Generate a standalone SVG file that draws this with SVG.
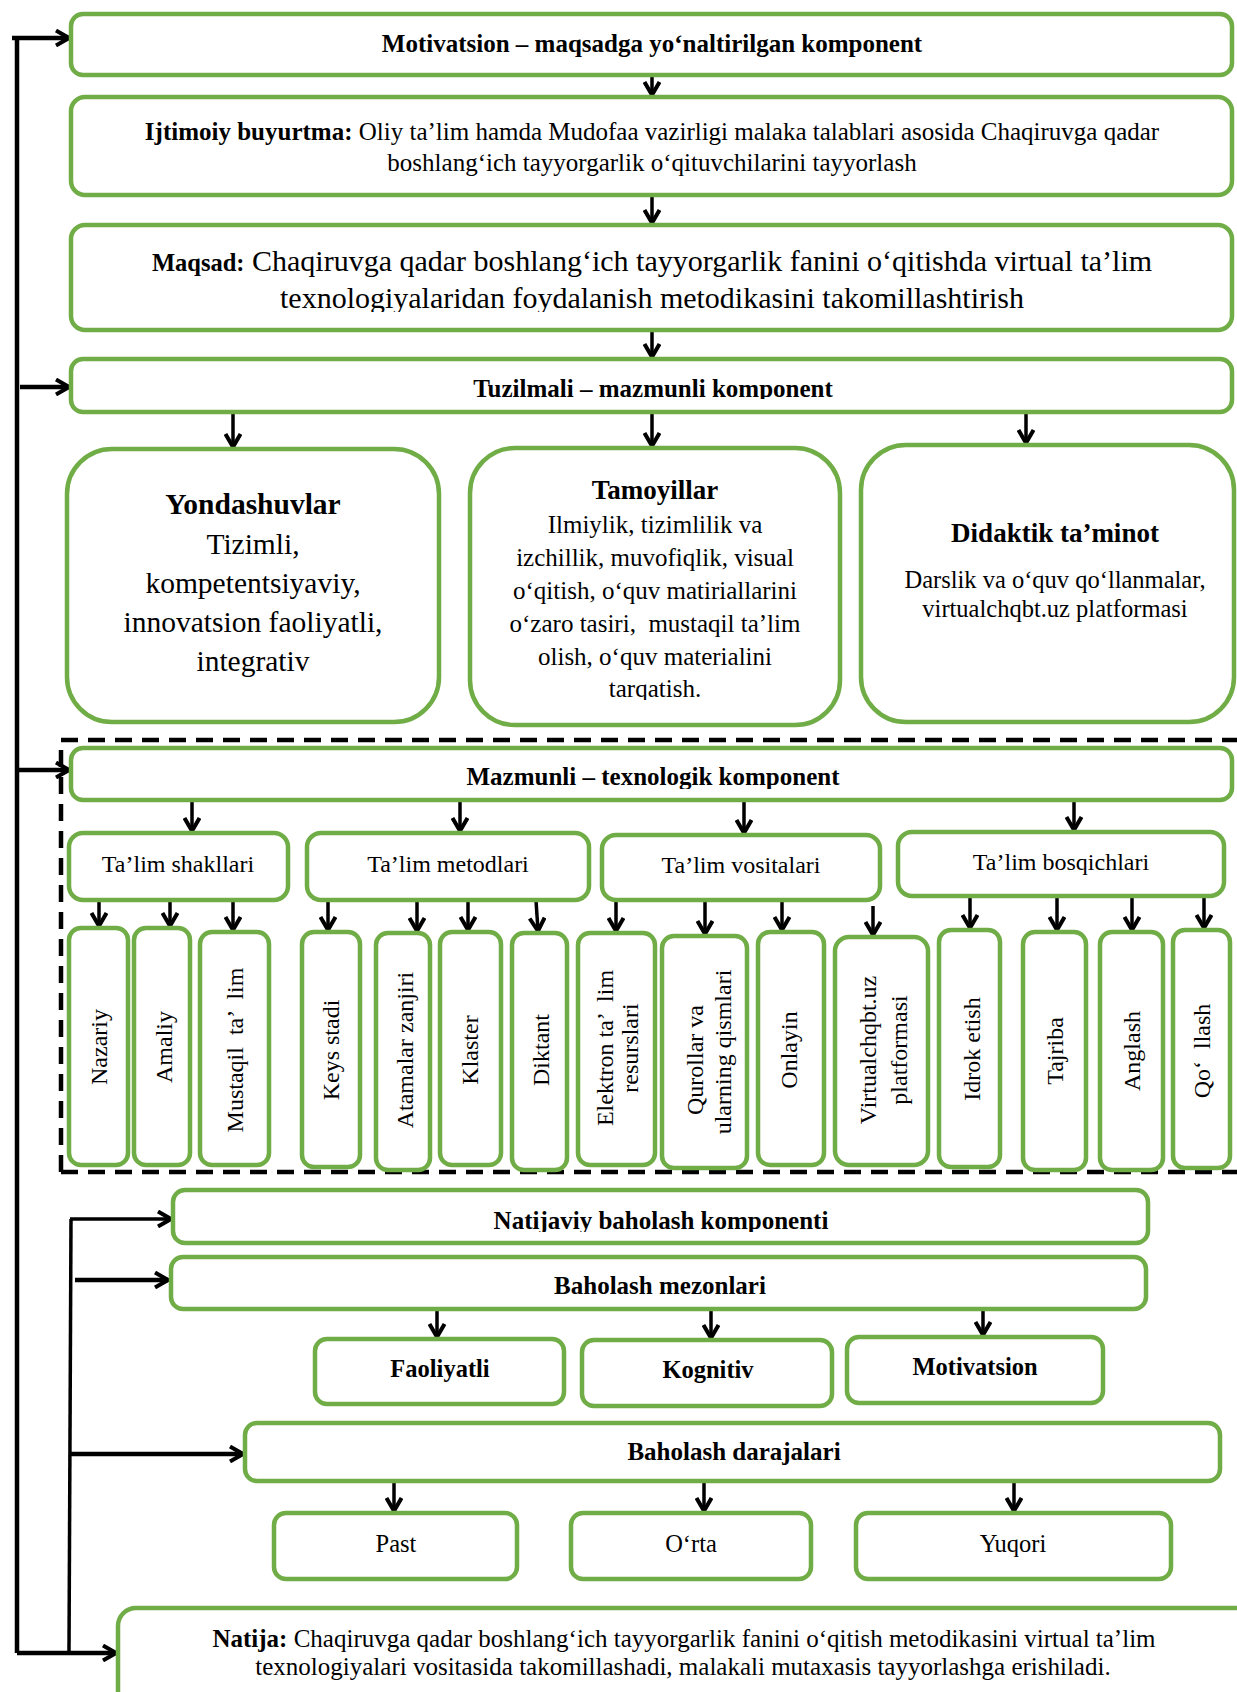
<svg xmlns="http://www.w3.org/2000/svg" width="1237" height="1692" viewBox="0 0 1237 1692">
<defs>
<style>
.box{fill:#fff;stroke:#70AD47;stroke-width:4.5}
.t{font-family:"Liberation Serif","Times New Roman",serif;fill:#000;text-anchor:middle}
.b{font-weight:bold}
.ln{stroke:#000;stroke-width:3.5;fill:none}
.lt{stroke:#000;stroke-width:4.5;fill:none}
.v{font-family:"Liberation Serif","Times New Roman",serif;fill:#000;text-anchor:middle;dominant-baseline:central;font-size:24px}
</style>
<marker id="ah" viewBox="0 0 18 18" refX="16" refY="9" markerWidth="18" markerHeight="18" markerUnits="userSpaceOnUse" orient="auto">
<path d="M3,1.5 L16,9 L3,16.5" fill="none" stroke="#000" stroke-width="4" stroke-linejoin="miter"/>
</marker>
<clipPath id="cTuz"><rect x="0" y="300" width="1237" height="99"/></clipPath>
<clipPath id="cMaz"><rect x="0" y="740" width="1237" height="49"/></clipPath>
<clipPath id="cNat"><rect x="0" y="1180" width="1237" height="52"/></clipPath>
<clipPath id="cMaq"><rect x="0" y="280" width="1237" height="32"/></clipPath>
<clipPath id="cTam"><rect x="0" y="670" width="1237" height="30"/></clipPath>
<clipPath id="cQur"><rect x="600" y="900" width="145" height="300"/></clipPath>
</defs>
<rect x="0" y="0" width="1237" height="1692" fill="#fff"/>

<g id="connectors">
<path class="lt" d="M17,36 V1653"/>
<path class="lt" d="M12,38 H69" marker-end="url(#ah)"/>
<path class="lt" d="M20,387 H69" marker-end="url(#ah)"/>
<path class="lt" d="M17,770 H69" marker-end="url(#ah)"/>
<path class="lt" d="M17,1653 H116" marker-end="url(#ah)"/>
<path class="ln" d="M71,1219 L69,1651"/>
<path class="ln" d="M70,1219 H171" marker-end="url(#ah)"/>
<path class="lt" d="M75,1280 H168" marker-end="url(#ah)"/>
<path class="lt" d="M70,1454 H243" marker-end="url(#ah)"/>

<path class="ln" d="M652,75 V95" marker-end="url(#ah)"/>
<path class="ln" d="M652,195 V223" marker-end="url(#ah)"/>
<path class="ln" d="M652,330 V357" marker-end="url(#ah)"/>
<path class="ln" d="M233,410 V447" marker-end="url(#ah)"/>
<path class="ln" d="M652,410 V446" marker-end="url(#ah)"/>
<path class="ln" d="M1026,410 V443" marker-end="url(#ah)"/>

<path class="ln" d="M192,800 V831" marker-end="url(#ah)"/>
<path class="ln" d="M460,800 V831" marker-end="url(#ah)"/>
<path class="ln" d="M744,800 V833" marker-end="url(#ah)"/>
<path class="ln" d="M1074,800 V830" marker-end="url(#ah)"/>

<path class="ln" d="M99,900 V926" marker-end="url(#ah)"/>
<path class="ln" d="M170,900 V926" marker-end="url(#ah)"/>
<path class="ln" d="M233,900 V930" marker-end="url(#ah)"/>
<path class="ln" d="M328,900 V930" marker-end="url(#ah)"/>
<path class="ln" d="M417,900 V931" marker-end="url(#ah)"/>
<path class="ln" d="M468,900 V930" marker-end="url(#ah)"/>
<path class="ln" d="M536,900 L538,931" marker-end="url(#ah)"/>
<path class="ln" d="M616,900 V931" marker-end="url(#ah)"/>
<path class="ln" d="M705,900 V934" marker-end="url(#ah)"/>
<path class="ln" d="M782,900 V930" marker-end="url(#ah)"/>
<path class="ln" d="M873,906 V935" marker-end="url(#ah)"/>
<path class="ln" d="M970,896 V928" marker-end="url(#ah)"/>
<path class="ln" d="M1057,896 V930" marker-end="url(#ah)"/>
<path class="ln" d="M1132,896 V930" marker-end="url(#ah)"/>
<path class="ln" d="M1204,896 V928" marker-end="url(#ah)"/>

<path class="ln" d="M437,1309 V1337" marker-end="url(#ah)"/>
<path class="ln" d="M711,1309 V1338" marker-end="url(#ah)"/>
<path class="ln" d="M983,1309 V1335" marker-end="url(#ah)"/>
<path class="ln" d="M394,1481 V1511" marker-end="url(#ah)"/>
<path class="ln" d="M704,1481 V1511" marker-end="url(#ah)"/>
<path class="ln" d="M1014,1481 V1511" marker-end="url(#ah)"/>
</g>

<g id="n-motivatsion">
<rect class="box" x="71" y="14" width="1161" height="61" rx="12"/>
<text class="t b" x="652" y="52" font-size="25">Motivatsion – maqsadga yo‘naltirilgan komponent</text>
</g>
<g id="n-ijtimoiy">
<rect class="box" x="71" y="97" width="1161" height="98" rx="14"/>
<text class="t" x="652" y="140" font-size="25"><tspan class="b">Ijtimoiy buyurtma:</tspan> Oliy ta’lim hamda Mudofaa vazirligi malaka talablari asosida Chaqiruvga qadar</text>
<text class="t" x="652" y="171" font-size="25">boshlang‘ich tayyorgarlik o‘qituvchilarini tayyorlash</text>
</g>
<g id="n-maqsad">
<rect class="box" x="71" y="225" width="1161" height="105" rx="14"/>
<text class="t" x="652" y="271" font-size="30"><tspan class="b" font-size="24.5">Maqsad:</tspan> Chaqiruvga qadar boshlang‘ich tayyorgarlik fanini o‘qitishda virtual ta’lim</text>
<text class="t" x="652" y="308" font-size="30" clip-path="url(#cMaq)">texnologiyalaridan foydalanish metodikasini takomillashtirish</text>
</g>
<g id="n-tuzilmali">
<rect class="box" x="71" y="359" width="1161" height="53" rx="12"/>
<text class="t b" x="653" y="397" font-size="25" clip-path="url(#cTuz)">Tuzilmali – mazmunli komponent</text>
</g>
<g id="n-yondashuvlar">
<rect class="box" x="67" y="449" width="372" height="273" rx="45"/>
<text class="t b" x="253" y="514" font-size="29.5">Yondashuvlar</text>
<text class="t" x="253" y="554" font-size="29.5">Tizimli,</text>
<text class="t" x="253" y="593" font-size="29.5">kompetentsiyaviy,</text>
<text class="t" x="253" y="632" font-size="29.5">innovatsion faoliyatli,</text>
<text class="t" x="253" y="671" font-size="29.5">integrativ</text>
</g>
<g id="n-tamoyillar">
<rect class="box" x="470" y="448" width="370" height="277" rx="45"/>
<text class="t b" x="655" y="499" font-size="27">Tamoyillar</text>
<text class="t" x="655" y="533" font-size="25">Ilmiylik, tizimlilik va</text>
<text class="t" x="655" y="566" font-size="25">izchillik, muvofiqlik, visual</text>
<text class="t" x="655" y="599" font-size="25">o‘qitish, o‘quv matiriallarini</text>
<text class="t" x="655" y="632" font-size="25" xml:space="preserve">o‘zaro tasiri,  mustaqil ta’lim</text>
<text class="t" x="655" y="665" font-size="25">olish, o‘quv materialini</text>
<text class="t" x="655" y="697" font-size="25" clip-path="url(#cTam)">tarqatish.</text>
</g>
<g id="n-didaktik">
<rect class="box" x="861" y="445" width="373" height="277" rx="45"/>
<text class="t b" x="1055" y="542" font-size="27">Didaktik ta’minot</text>
<text class="t" x="1055" y="588" font-size="24.5">Darslik va o‘quv qo‘llanmalar,</text>
<text class="t" x="1055" y="617" font-size="24.5">virtualchqbt.uz platformasi</text>
</g>

<g id="g-dashed">
<path d="M61,1172 V740 H1240 M61,1172 H1240" fill="none" stroke="#000" stroke-width="4.5" stroke-dasharray="17 10"/>
</g>

<g id="n-mazmunli">
<rect class="box" x="71" y="748" width="1161" height="52" rx="12"/>
<text class="t b" x="653" y="785" font-size="25" clip-path="url(#cMaz)">Mazmunli – texnologik komponent</text>
</g>
<g id="n-shakllari">
<rect class="box" x="69" y="833" width="219" height="67" rx="14"/>
<text class="t" x="178" y="872" font-size="24">Ta’lim shakllari</text>
</g>
<g id="n-metodlari">
<rect class="box" x="307" y="833" width="282" height="67" rx="14"/>
<text class="t" x="448" y="872" font-size="24">Ta’lim metodlari</text>
</g>
<g id="n-vositalari">
<rect class="box" x="602" y="835" width="278" height="65" rx="14"/>
<text class="t" x="741" y="873" font-size="24">Ta’lim vositalari</text>
</g>
<g id="n-bosqichlari">
<rect class="box" x="898" y="832" width="326" height="64" rx="14"/>
<text class="t" x="1061" y="870" font-size="24">Ta’lim bosqichlari</text>
</g>

<g id="n-nazariy"><rect class="box" x="69" y="928" width="59" height="237" rx="12"/><text class="v" transform="translate(99,1047) rotate(-90)">Nazariy</text></g>
<g id="n-amaliy"><rect class="box" x="134" y="928" width="56" height="237" rx="12"/><text class="v" transform="translate(164,1047) rotate(-90)">Amaliy</text></g>
<g id="n-mustaqil"><rect class="box" x="200" y="932" width="69" height="233" rx="12"/><text class="v" xml:space="preserve" transform="translate(235,1050) rotate(-90)">Mustaqil  ta’  lim</text></g>
<g id="n-keys"><rect class="box" x="302" y="932" width="58" height="235" rx="12"/><text class="v" transform="translate(331,1050) rotate(-90)">Keys stadi</text></g>
<g id="n-atamalar"><rect class="box" x="376" y="933" width="54" height="237" rx="12"/><text class="v" transform="translate(405,1050) rotate(-90)">Atamalar zanjiri</text></g>
<g id="n-klaster"><rect class="box" x="440" y="932" width="61" height="233" rx="12"/><text class="v" transform="translate(470,1050) rotate(-90)">Klaster</text></g>
<g id="n-diktant"><rect class="box" x="512" y="933" width="55" height="237" rx="12"/><text class="v" transform="translate(541,1050) rotate(-90)">Diktant</text></g>
<g id="n-elektron"><rect class="box" x="578" y="933" width="77" height="232" rx="12"/><text class="v" xml:space="preserve" transform="translate(605,1048) rotate(-90)">Elektron ta’  lim</text><text class="v" transform="translate(630,1048) rotate(-90)">resurslari</text></g>
<g id="n-qurollar"><rect class="box" x="662" y="936" width="85" height="232" rx="12"/><text class="v" transform="translate(695,1060) rotate(-90)">Qurollar va</text><g clip-path="url(#cQur)"><text class="v" transform="translate(723,1052) rotate(-90)">ularning qismlari</text></g></g>
<g id="n-onlayin"><rect class="box" x="758" y="932" width="66" height="233" rx="12"/><text class="v" transform="translate(789,1050) rotate(-90)">Onlayin</text></g>
<g id="n-virtual"><rect class="box" x="835" y="937" width="93" height="228" rx="14"/><text class="v" transform="translate(868,1050) rotate(-90)">Virtualchqbt.uz</text><text class="v" transform="translate(899,1050) rotate(-90)">platformasi</text></g>
<g id="n-idrok"><rect class="box" x="939" y="930" width="61" height="237" rx="12"/><text class="v" transform="translate(972,1049) rotate(-90)">Idrok etish</text></g>
<g id="n-tajriba"><rect class="box" x="1023" y="932" width="63" height="238" rx="12"/><text class="v" transform="translate(1055,1051) rotate(-90)">Tajriba</text></g>
<g id="n-anglash"><rect class="box" x="1100" y="932" width="63" height="238" rx="12"/><text class="v" transform="translate(1132,1051) rotate(-90)">Anglash</text></g>
<g id="n-qollash"><rect class="box" x="1173" y="930" width="57" height="238" rx="12"/><text class="v" xml:space="preserve" transform="translate(1202,1051) rotate(-90)">Qo‘  llash</text></g>

<g id="n-natijaviy">
<rect class="box" x="173" y="1190" width="975" height="53" rx="12"/>
<text class="t b" x="661" y="1229" font-size="25" clip-path="url(#cNat)">Natijaviy baholash komponenti</text>
</g>
<g id="n-mezonlari">
<rect class="box" x="171" y="1257" width="975" height="52" rx="12"/>
<text class="t b" x="660" y="1294" font-size="25">Baholash mezonlari</text>
</g>
<g id="n-faoliyatli"><rect class="box" x="315" y="1339" width="249" height="65" rx="12"/><text class="t b" x="440" y="1377" font-size="24.5">Faoliyatli</text></g>
<g id="n-kognitiv"><rect class="box" x="582" y="1340" width="250" height="66" rx="12"/><text class="t b" x="708" y="1378" font-size="24.5">Kognitiv</text></g>
<g id="n-motivatsion2"><rect class="box" x="847" y="1337" width="256" height="66" rx="12"/><text class="t b" x="975" y="1375" font-size="24.5">Motivatsion</text></g>
<g id="n-darajalari">
<rect class="box" x="245" y="1423" width="975" height="58" rx="12"/>
<text class="t b" x="734" y="1460" font-size="25">Baholash darajalari</text>
</g>
<g id="n-past"><rect class="box" x="274" y="1513" width="243" height="66" rx="12"/><text class="t" x="396" y="1552" font-size="24.5">Past</text></g>
<g id="n-orta"><rect class="box" x="571" y="1513" width="240" height="66" rx="12"/><text class="t" x="691" y="1552" font-size="24.5">O‘rta</text></g>
<g id="n-yuqori"><rect class="box" x="856" y="1513" width="315" height="66" rx="12"/><text class="t" x="1013" y="1552" font-size="24.5">Yuqori</text></g>
<g id="n-natija">
<rect class="box" x="118" y="1608" width="1140" height="110" rx="18"/>
<text class="t" x="684" y="1647" font-size="25"><tspan class="b">Natija:</tspan> Chaqiruvga qadar boshlang‘ich tayyorgarlik fanini o‘qitish metodikasini virtual ta’lim</text>
<text class="t" x="683" y="1675" font-size="25">texnologiyalari vositasida takomillashadi, malakali mutaxasis tayyorlashga erishiladi.</text>
</g>
</svg>
